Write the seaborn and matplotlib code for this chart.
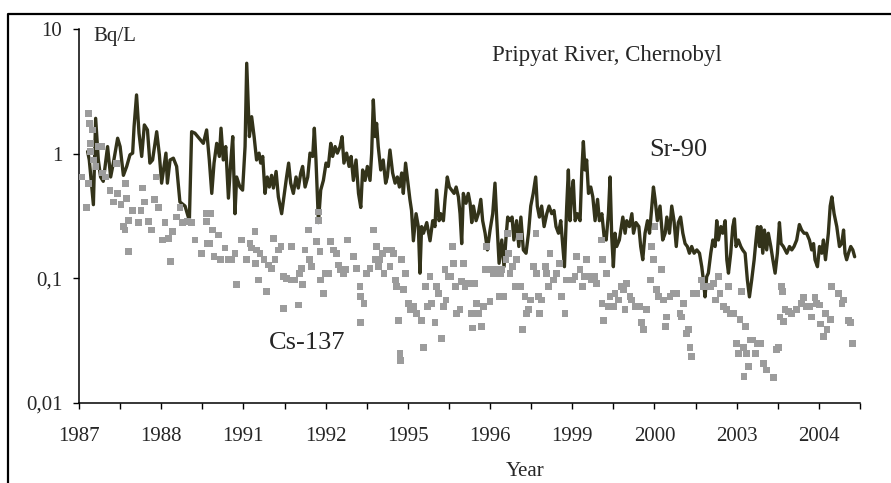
import numpy as np
import pandas as pd
import matplotlib
matplotlib.use("Agg")
import matplotlib.pyplot as plt
import seaborn as sns
from matplotlib.lines import Line2D
from matplotlib.ticker import FixedLocator, FixedFormatter, NullLocator

# Measurement slot along the category axis (20 slots between neighbouring ticks)
sr_slot = [
    4.2, 5.0, 7.0, 8.1, 9.4, 10.5, 11.8, 13.9, 15.4, 16.7, 18.8, 20.0, 21.6, 23.2, 24.8,
    26.1, 26.8, 28.0, 29.2, 30.5, 31.8, 33.3, 34.5, 35.8, 37.8, 39.1, 40.2, 41.4, 42.3,
    43.0, 44.3, 45.9, 47.5, 49.1, 51.6, 53.7, 54.8, 56.4, 60.5, 62.1, 63.4, 64.6, 65.7,
    67.0, 68.3, 69.1, 70.2, 71.4, 72.7, 73.8, 74.8, 75.9, 76.7, 78.3, 79.6, 80.8, 81.6,
    82.9, 84.0, 85.2, 86.4, 87.6, 88.4, 89.4, 90.5, 91.6, 92.6, 93.7, 94.6, 95.9, 97.0,
    98.6, 99.9, 101.0, 102.0, 103.0, 104.3, 105.6, 106.7, 107.9, 108.8, 110.0, 111.3,
    112.4, 113.7, 114.5, 115.3, 116.5, 117.6, 118.9, 120.2, 121.3, 122.5, 123.4, 124.6,
    125.7, 127.0, 128.0, 128.9, 130.2, 131.4, 132.4, 133.5, 134.8, 136.0, 137.1, 138.0,
    139.2, 140.3, 141.6, 142.4, 143.2, 144.1, 144.8, 145.6, 146.8, 148.0, 149.2, 150.0,
    151.3, 152.6, 153.8, 154.9, 155.9, 157.0, 157.8, 158.9, 159.9, 161.0, 161.8, 162.7,
    164.0, 165.1, 165.9, 166.7, 167.6, 169.2, 170.8, 172.1, 173.2, 174.0, 175.2, 176.0,
    177.3, 178.1, 179.2, 180.2, 181.3, 182.5, 183.5, 184.6, 185.4, 186.2, 187.0, 188.3,
    189.4, 190.3, 191.1, 191.9, 193.2, 194.3, 195.5, 196.4, 197.6, 198.7, 200.0, 201.3,
    202.4, 203.2, 204.4, 205.7, 206.8, 207.8, 208.6, 209.7, 210.7, 211.6, 212.9, 214.0,
    215.0, 216.2, 217.5, 218.7, 219.8, 221.0, 222.2, 223.0, 224.0, 225.1, 226.3, 227.6,
    228.7, 230.0, 231.1, 232.1, 233.3, 234.4, 235.4, 236.2, 237.3, 238.1, 238.9, 239.7,
    240.5, 241.4, 242.5, 243.8, 244.6, 245.4, 246.2, 247.0, 247.9, 249.0, 250.0, 251.1,
    252.3, 253.2, 254.4, 255.5, 256.5, 257.6, 258.4, 259.2, 260.0, 260.8, 261.6, 262.9,
    264.6, 265.7, 266.5, 267.8, 269.0, 269.8, 271.0, 272.4, 273.3, 274.3, 275.4, 276.6,
    277.6, 278.7, 279.5, 280.3, 281.4, 282.7, 284.0, 285.2, 286.0, 287.3, 288.4, 289.5,
    290.6, 291.6, 292.7, 293.8, 294.9, 296.0, 297.0, 298.1, 299.3, 300.6, 301.9, 303.0,
    303.8, 304.6, 305.4, 306.2, 307.4, 308.4, 309.5, 310.3, 311.1, 312.3, 313.2, 314.4,
    315.2, 316.0, 317.1, 318.1, 318.9, 319.7, 320.8, 322.0, 322.9, 324.1, 325.2, 326.2,
    327.3, 328.5, 329.4, 330.1, 331.1, 331.7, 332.7, 333.5, 334.6, 335.4, 336.6, 337.6,
    338.7, 339.8, 340.8, 341.6, 342.7, 344.4, 345.7, 346.8, 347.9, 349.2, 350.5, 351.6,
    352.8, 354.0, 355.4, 356.5, 357.4, 358.1, 359.3, 360.3, 361.4, 362.2, 363.2, 364.6,
    365.5, 366.3, 367.4, 368.7, 370.0, 371.1, 372.0, 372.7, 373.5, 374.4, 375.5, 376.5,
    377.4,
]
sr90 = [
    1.04, 0.89, 0.39, 1.92, 0.89, 0.65, 0.60, 1.14, 0.65, 0.84, 1.33, 1.14, 0.67, 0.79, 0.98,
    1.01, 1.65, 2.96, 1.46, 0.95, 1.70, 1.55, 0.84, 0.89, 1.50, 0.98, 0.58, 0.79, 1.01,
    0.58, 0.89, 0.92, 0.79, 0.41, 0.38, 0.29, 1.50, 1.46, 1.21, 1.55, 0.89, 0.48, 0.84,
    1.21, 0.95, 1.60, 0.89, 1.14, 0.44, 0.84, 1.37, 0.33, 0.65, 0.54, 0.51, 1.14, 5.31,
    1.37, 1.98, 1.37, 0.89, 1.01, 0.84, 0.95, 0.48, 0.65, 0.54, 0.67, 0.53, 0.72, 0.45,
    0.33, 0.48, 0.65, 0.84, 0.58, 0.48, 0.65, 0.53, 0.70, 0.79, 0.54, 0.65,
    1.01, 0.95, 1.60, 0.89, 0.28, 0.51, 0.61, 0.84, 0.79, 1.21, 0.95, 1.14,
    1.01, 1.14, 1.37, 0.84, 1.01, 0.79, 0.95, 0.61, 0.89, 0.48, 0.37, 0.74,
    0.61, 0.79, 0.61, 1.01, 2.70, 1.37, 1.75, 1.14, 0.74, 0.89, 0.58, 0.65,
    1.07, 0.70, 0.58, 0.65, 0.54, 0.70, 0.48, 0.84, 0.61, 0.43, 0.35, 0.20,
    0.33, 0.26, 0.11, 0.26, 0.23, 0.28, 0.20, 0.29, 0.26, 0.51, 0.29, 0.33,
    0.29, 0.43, 0.65, 0.54, 0.51, 0.48, 0.54, 0.45, 0.33, 0.19, 0.48, 0.40,
    0.48, 0.40, 0.28, 0.38, 0.29, 0.33, 0.43, 0.29, 0.23, 0.169, 0.244, 0.33,
    0.58, 0.31, 0.132, 0.203, 0.124, 0.216, 0.31, 0.29, 0.31, 0.203, 0.29, 0.18,
    0.31, 0.169, 0.159, 0.23, 0.38, 0.48, 0.65, 0.38, 0.31, 0.38, 0.26, 0.33,
    0.38, 0.33, 0.35, 0.26, 0.23, 0.29, 0.18, 0.124, 0.38, 0.74, 0.29, 0.48,
    0.61, 0.29, 0.33, 0.29, 0.70, 1.25, 0.74, 0.89, 0.48, 0.54, 0.45, 0.29,
    0.43, 0.29, 0.33, 0.216, 0.203, 0.33, 0.65, 0.216, 0.124, 0.23, 0.18, 0.203,
    0.31, 0.23, 0.29, 0.26, 0.33, 0.23, 0.28, 0.26, 0.18, 0.141, 0.23, 0.29,
    0.23, 0.38, 0.54, 0.43, 0.29, 0.38, 0.203, 0.23, 0.31, 0.23, 0.38, 0.29,
    0.18, 0.28, 0.31, 0.23, 0.19, 0.18, 0.159, 0.18, 0.159, 0.169, 0.159, 0.124,
    0.097, 0.071, 0.103, 0.110, 0.159, 0.203, 0.18, 0.29, 0.203, 0.26, 0.23, 0.29,
    0.141, 0.110, 0.159, 0.26, 0.30, 0.18, 0.203, 0.18, 0.169, 0.159, 0.097, 0.071,
    0.097, 0.141, 0.203, 0.26, 0.18, 0.26, 0.159, 0.244, 0.169, 0.23, 0.18, 0.141,
    0.110, 0.159, 0.28, 0.19, 0.18, 0.159, 0.18, 0.169, 0.18, 0.203, 0.27, 0.244,
    0.23, 0.23, 0.203, 0.169, 0.19, 0.141, 0.124, 0.18, 0.159, 0.203, 0.141, 0.23,
    0.38, 0.45, 0.33, 0.26, 0.18, 0.19, 0.244, 0.159, 0.141, 0.159, 0.18, 0.169,
    0.149,
]

cs_slot = [
    1.3, 3.7, 4.8, 5.0, 5.7, 5.4, 6.5, 7.0, 4.5, 8.3, 9.4, 11.0, 11.5, 12.7, 15.1, 16.7,
    18.3, 18.7, 20.4, 21.6, 22.4, 22.7, 23.2, 24.0, 24.2, 26.1, 28.9, 30.2, 31.0, 31.8,
    33.7, 35.4, 36.7, 37.5, 38.6, 40.6, 41.8, 43.5, 44.6, 45.4, 47.5, 49.1, 50.4, 52.9,
    54.8, 56.4, 59.7, 61.8, 64.1, 62.1, 62.3, 63.7, 64.9, 65.7, 67.8, 68.9, 71.0, 72.7,
    74.3, 75.9, 76.7,
    79.2, 81.6, 83.2, 84.0, 85.6, 85.8, 86.5, 87.3, 88.1, 90.0, 91.3, 92.1, 93.8, 94.6,
    95.4, 97.0, 98.3, 99.4, 99.6, 101.1, 103.2, 103.5, 105.1, 106.7, 107.2, 108.3, 108.8,
    110.0, 111.6, 112.1, 113.2, 115.6, 116.5, 116.7, 117.3, 117.5, 118.9, 119.7, 121.3,
    122.5, 123.8, 125.1, 126.2, 127.0, 128.6, 129.9, 130.5, 133.5, 135.1, 136.7, 137.0,
    136.9, 138.7, 139.7, 141.6, 143.2, 144.0, 144.8, 145.6, 146.4, 147.8, 148.4, 149.7,
    151.3, 152.1, 152.9, 153.8, 154.6, 155.4, 156.2, 156.3, 157.0, 157.8, 159.0, 160.3,
    161.1, 162.7, 164.3,
    166.7, 168.4, 167.6, 169.5, 170.8, 171.6, 173.2, 174.0, 174.9, 176.5, 177.3, 178.1,
    178.6, 179.7, 180.9, 181.7, 182.2, 183.0, 183.8, 185.4, 186.2, 187.0, 187.8, 188.6,
    190.3, 191.1, 191.6, 192.7, 193.5, 194.3, 195.9, 196.8, 197.6, 198.4, 200.0, 200.8,
    201.6, 203.6, 204.5, 204.9, 205.7, 206.5, 207.8, 208.4, 208.9, 209.7, 211.0, 212.2,
    213.0, 214.3, 214.9, 215.9, 217.0, 217.8, 218.7, 219.8, 221.1, 222.4, 222.7, 223.5,
    224.0, 225.1, 226.8, 227.6, 228.4, 229.2, 230.8, 232.4, 233.7, 234.9, 236.5, 237.3,
    240.2, 241.3, 242.2, 243.8, 245.1, 245.7, 247.0, 247.8, 249.4, 251.0, 251.9,
    254.3, 254.8, 254.5, 255.2, 256.8, 257.6, 258.4, 260.0, 260.8, 262.4, 264.1, 264.9,
    265.7, 266.5, 268.1, 269.0, 270.6, 273.0, 273.8, 274.6, 276.2, 277.9, 278.7, 279.5,
    280.3, 281.1, 281.9, 283.5, 284.4, 285.2, 286.0, 287.6, 289.2, 290.8, 292.4, 293.3,
    294.1, 295.7, 296.5, 297.3, 298.1, 298.9, 300.6, 303.0, 303.8, 305.4, 307.1, 308.7,
    309.5, 311.1, 311.9, 313.5, 315.2, 316.0, 316.8, 318.4, 320.0, 320.8, 321.6, 322.5,
    323.3, 323.6, 324.1, 324.9, 325.7, 326.5, 327.8, 329.0, 330.1,
    331.4, 333.0, 334.6, 337.9, 339.5, 340.3, 341.1, 341.9, 342.4, 342.7, 343.5, 345.2,
    346.8, 349.2, 351.6, 352.5, 354.1, 355.7, 356.5, 358.1, 358.9, 360.3, 360.6, 362.2,
    363.1, 363.9, 365.5, 366.3, 369.6, 371.2, 372.0, 374.4, 375.2, 376.5,
]
cs137 = [
    0.65, 0.37, 2.11, 1.75, 1.21, 1.04, 1.55, 0.89, 0.58, 0.79, 1.14, 1.14, 0.70, 0.65, 0.51, 0.41,
    0.84, 0.48, 0.39, 0.26, 0.244, 0.58, 0.44, 0.29, 0.164, 0.35, 0.28, 0.35, 0.53, 0.41,
    0.285, 0.244, 0.43, 0.65, 0.37, 0.203, 0.28, 0.21, 0.137, 0.237, 0.31, 0.37, 0.28, 0.285,
    0.28, 0.203, 0.159, 0.33, 0.33, 0.285, 0.191, 0.191, 0.244, 0.149, 0.223, 0.141, 0.175, 0.141,
    0.141, 0.159, 0.089,
    0.203, 0.141, 0.191, 0.175, 0.237, 0.132, 0.169, 0.097, 0.159, 0.141, 0.078, 0.128, 0.120, 0.21,
    0.141, 0.169, 0.18, 0.103, 0.057, 0.100, 0.18, 0.097, 0.097, 0.061, 0.110, 0.120, 0.089,
    0.169, 0.244, 0.141, 0.124, 0.197, 0.34, 0.29, 0.164, 0.097, 0.076, 0.110, 0.110,
    0.197, 0.169, 0.159, 0.128, 0.117, 0.110, 0.117, 0.203, 0.149, 0.120, 0.086, 0.071,
    0.044, 0.063, 0.110, 0.120, 0.244, 0.141, 0.18, 0.124, 0.141, 0.159, 0.110, 0.169,
    0.124, 0.169, 0.159, 0.097, 0.086, 0.046, 0.025, 0.022, 0.141, 0.081, 0.110, 0.063,
    0.056, 0.059, 0.052,
    0.046, 0.086, 0.028, 0.059, 0.103, 0.063, 0.044, 0.086, 0.076, 0.033, 0.059, 0.117,
    0.067, 0.103, 0.103, 0.18, 0.132, 0.086, 0.052, 0.056, 0.094, 0.132, 0.086, 0.091,
    0.091, 0.052, 0.040, 0.091, 0.063, 0.052, 0.041, 0.059, 0.117, 0.18, 0.065, 0.117,
    0.110, 0.117, 0.071, 0.110, 0.117, 0.071, 0.141, 0.23, 0.159, 0.110, 0.124, 0.086,
    0.141, 0.216, 0.086, 0.039, 0.071, 0.052, 0.056, 0.067, 0.124, 0.23, 0.110, 0.071,
    0.052, 0.067, 0.124, 0.110, 0.086, 0.159, 0.097, 0.110, 0.132, 0.071, 0.052, 0.097,
    0.097, 0.103, 0.149, 0.117, 0.086, 0.103, 0.141, 0.103, 0.097, 0.103, 0.091,
    0.203, 0.141, 0.063, 0.046, 0.110, 0.059, 0.071, 0.059, 0.076, 0.067, 0.086, 0.081,
    0.056, 0.091, 0.071, 0.067, 0.059, 0.059, 0.044, 0.039, 0.056, 0.097, 0.18, 0.141,
    0.26, 0.081, 0.071, 0.117, 0.067, 0.041, 0.049, 0.071, 0.076, 0.076, 0.052, 0.049,
    0.063, 0.036, 0.039, 0.028, 0.0236, 0.076, 0.076, 0.097, 0.086, 0.086, 0.086, 0.091,
    0.067, 0.103, 0.076, 0.059, 0.056, 0.086, 0.052, 0.052, 0.030, 0.025, 0.047, 0.078,
    0.028, 0.0163, 0.041, 0.025, 0.0196, 0.032, 0.032, 0.025, 0.030,
    0.030, 0.0208, 0.0184, 0.016, 0.027, 0.028, 0.049, 0.086, 0.078, 0.045, 0.056, 0.054,
    0.052, 0.056, 0.063, 0.070, 0.059, 0.059, 0.049, 0.070, 0.063, 0.061, 0.043, 0.034,
    0.052, 0.039, 0.047, 0.086, 0.076, 0.063, 0.067, 0.046, 0.044, 0.030,
]

year_labels = ["1987", "1988", "1991", "1992", "1995", "1996", "1999", "2000", "2003", "2004"]
y_ticks = [0.01, 0.1, 1, 10]
y_tick_labels = ["0,01", "0,1", "1", "10"]

sr_df = pd.DataFrame({"slot": sr_slot, "value": sr90})
cs_df = pd.DataFrame({"slot": cs_slot, "value": cs137})

sns.set_theme(style="white")
plt.rcParams["font.family"] = ["Liberation Serif", "DejaVu Serif"]

W, H = 891, 483
fig = plt.figure(figsize=(W / 100, H / 100), dpi=100)
ax = fig.add_axes([79 / W, 1 - 403 / H, (860 - 79) / W, (403 - 29) / H])

sns.lineplot(data=sr_df, x="slot", y="value", ax=ax, color="#33331a",
             linewidth=2.4, estimator=None, sort=False, zorder=2)
sns.scatterplot(data=cs_df, x="slot", y="value", ax=ax, marker="s", s=24,
                color="#9c9c9c", edgecolor="none", linewidth=0, zorder=3)

ax.set_yscale("log")
ax.set_ylim(0.01, 10)
ax.set_xlim(0, 380)
ax.yaxis.set_major_locator(FixedLocator(y_ticks))
ax.yaxis.set_major_formatter(FixedFormatter(y_tick_labels))
ax.yaxis.set_minor_locator(NullLocator())

ax.xaxis.set_major_locator(FixedLocator(list(range(0, 361, 40))))
ax.xaxis.set_major_formatter(FixedFormatter(year_labels))
ax.xaxis.set_minor_locator(FixedLocator(list(range(20, 381, 40))))

for side in ("top", "right"):
    ax.spines[side].set_visible(False)
for side in ("left", "bottom"):
    ax.spines[side].set_color("black")
    ax.spines[side].set_linewidth(1.1)

ax.tick_params(axis="x", which="both", direction="out", length=4, width=1,
               color="black", labelsize=15, pad=13, bottom=True)
ax.tick_params(axis="y", which="major", direction="out", length=4, width=1,
               color="black", labelsize=15, pad=8, left=True)
ax.set_xlabel("")
ax.set_ylabel("")
ax.grid(False)

fig.text(93 / W, 1 - 36 / H, "Bq/L", fontsize=15, ha="left", va="center")
fig.text(492 / W, 1 - 56 / H, "Pripyat River, Chernobyl", fontsize=16.5, ha="left", va="center")
fig.text(649 / W, 1 - 150 / H, "Sr-90", fontsize=19, ha="left", va="center")
fig.text(269 / W, 1 - 343 / H, "Cs-137", fontsize=19, ha="left", va="center")
fig.text(525 / W, 1 - 471 / H, "Year", fontsize=15, ha="center", va="center")

# outer frame of the chart area
fig.add_artist(Line2D([8 / W, 8 / W, 1.0], [0.0, 1 - 14 / H, 1 - 14 / H],
                      transform=fig.transFigure, color="black", linewidth=1.6))

fig.savefig("out.png", dpi=100)
